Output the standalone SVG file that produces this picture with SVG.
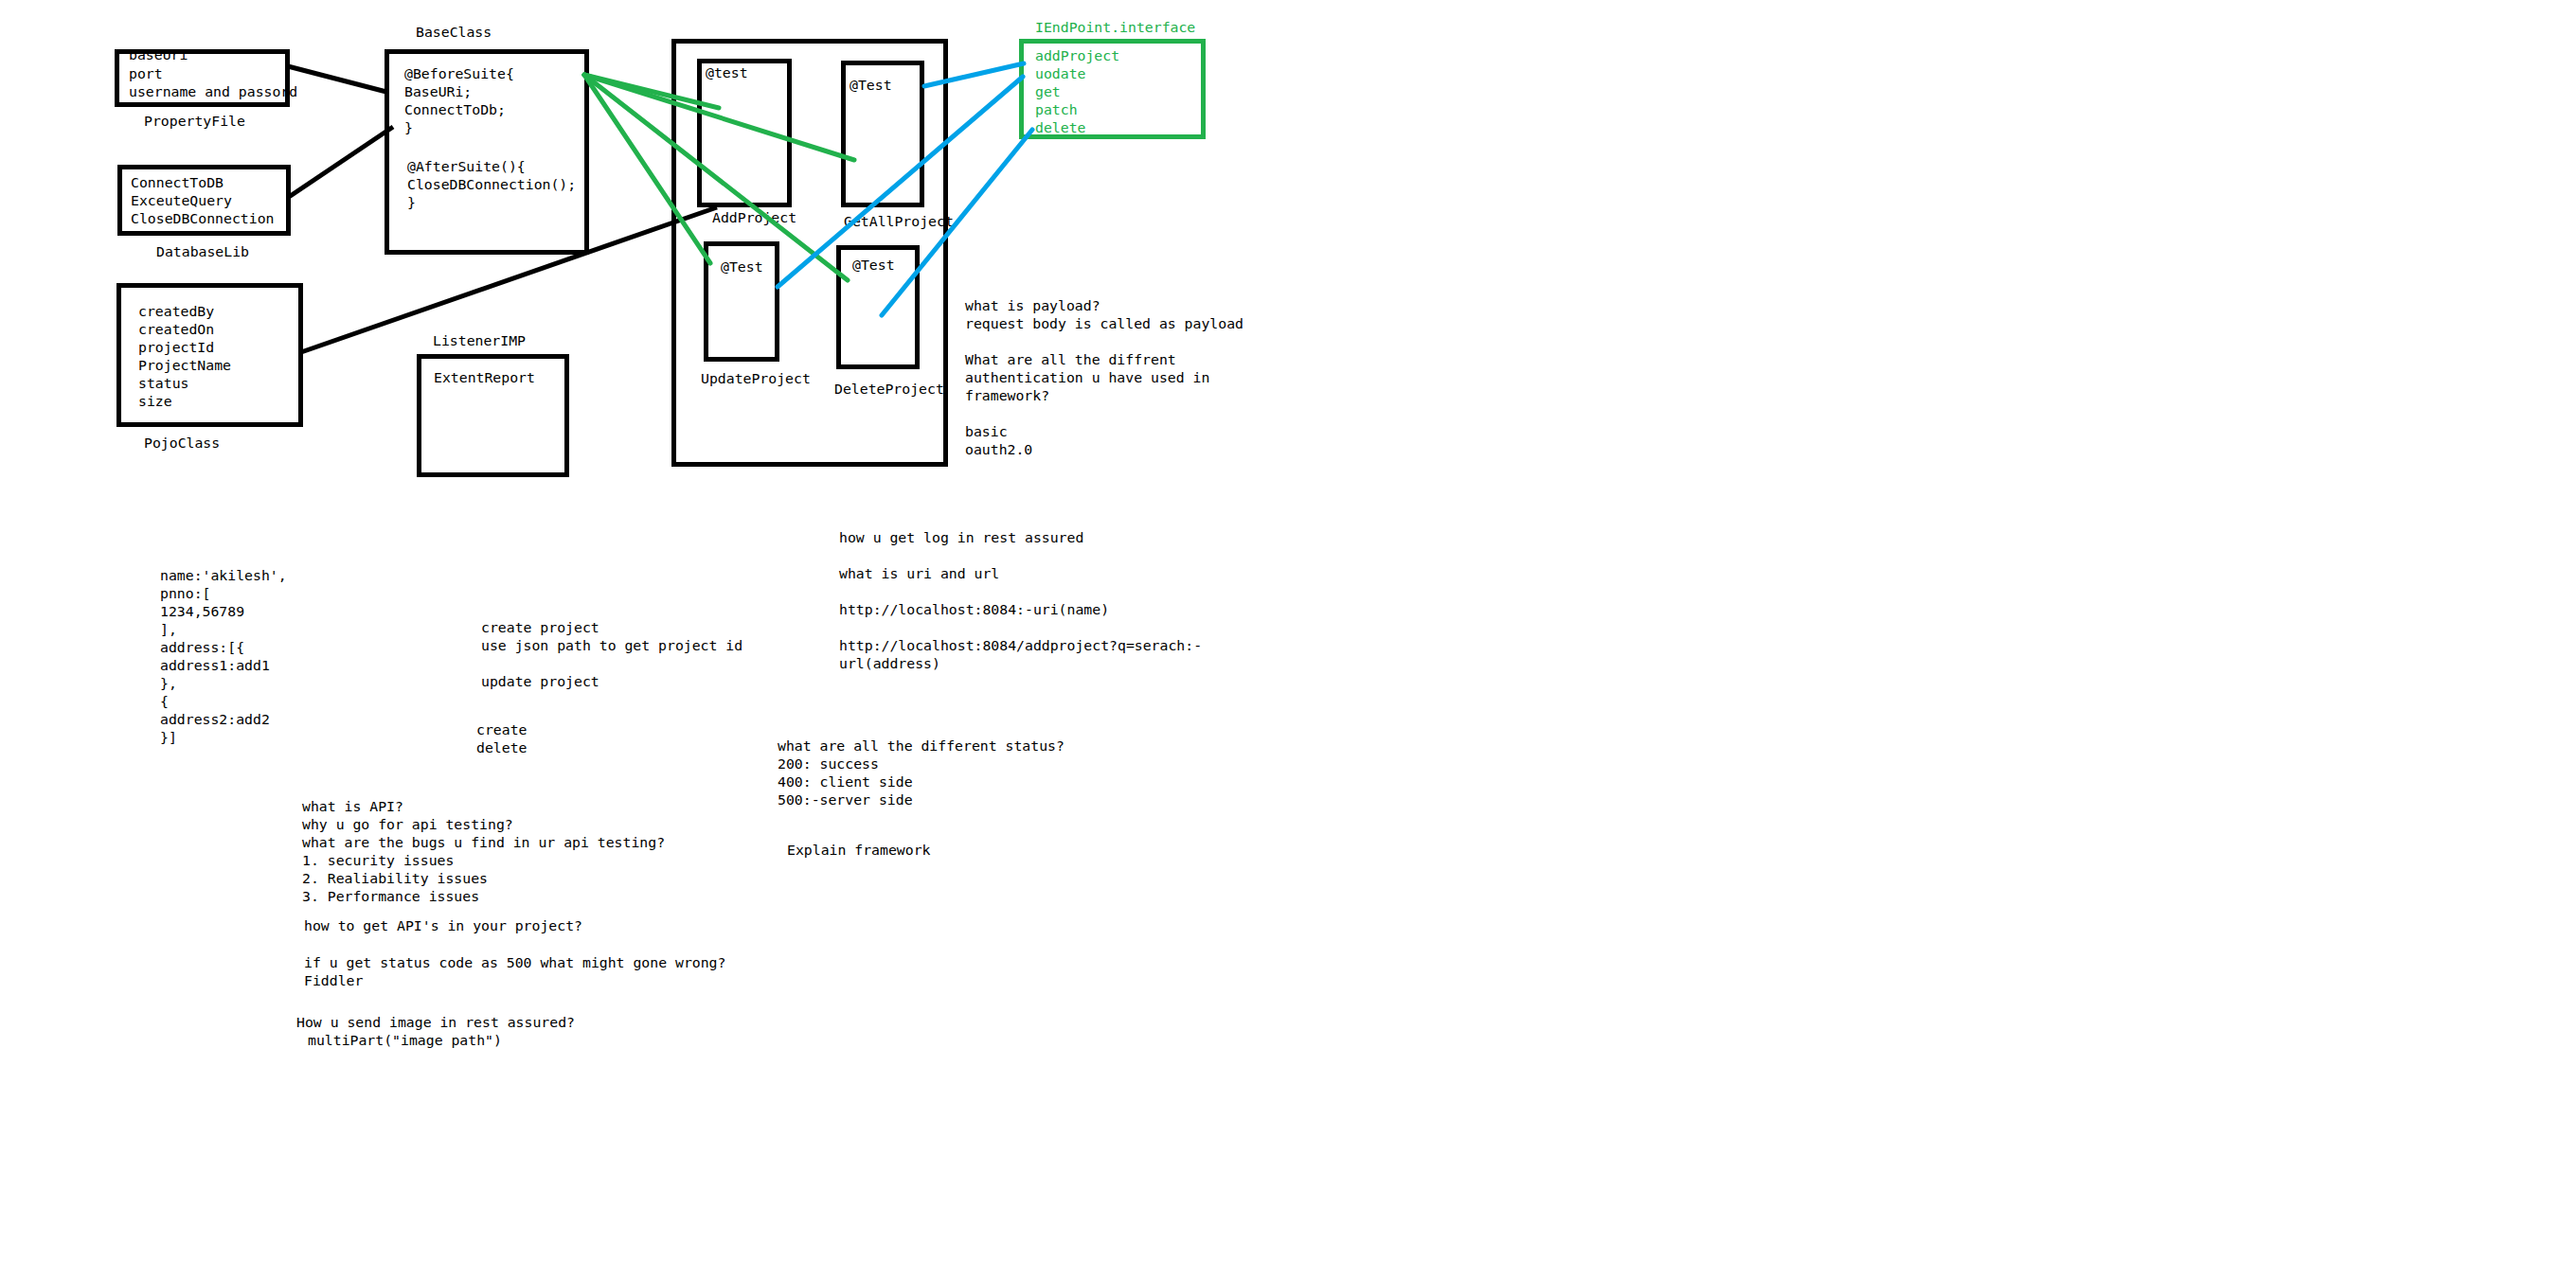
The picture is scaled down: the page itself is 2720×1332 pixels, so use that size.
<svg xmlns="http://www.w3.org/2000/svg" width="2720" height="1332" viewBox="0 0 2720 1332">
<style>
text{font-family:"DejaVu Sans Mono","Liberation Mono",monospace;font-size:14.8px;fill:#000}
.box{fill:none;stroke:#000;stroke-width:5}
.gbox{fill:none;stroke:#22b14c;stroke-width:5}
.gt{fill:#22b14c}
.blk{stroke:#000;stroke-width:5;fill:none}
.grn{stroke:#22b14c;stroke-width:5;fill:none;stroke-linecap:round}
.blu{stroke:#00a2e8;stroke-width:5;fill:none;stroke-linecap:round}
</style>
<rect width="2720" height="1332" fill="#fff"/>

<g id="propertyFile">
<text x="136" y="63">baseUri</text>
<text x="136" y="83">port</text>
<text x="136" y="102">username and passord</text>
<rect class="box" x="123.5" y="54.5" width="180" height="56"/>
<text x="152" y="133">PropertyFile</text>
</g>

<g id="databaseLib">
<rect class="box" x="126.5" y="176.5" width="178" height="70"/>
<text x="138" y="198">ConnectToDB</text>
<text x="138" y="217">ExceuteQuery</text>
<text x="138" y="236">CloseDBConnection</text>
<text x="165" y="271">DatabaseLib</text>
</g>

<g id="pojoClass">
<rect class="box" x="125.5" y="301.5" width="192" height="147"/>
<text x="146" y="334">createdBy</text>
<text x="146" y="353">createdOn</text>
<text x="146" y="372">projectId</text>
<text x="146" y="391">ProjectName</text>
<text x="146" y="410">status</text>
<text x="146" y="429">size</text>
<text x="152" y="473">PojoClass</text>
</g>

<g id="baseClass">
<text x="439" y="39">BaseClass</text>
<rect class="box" x="408.5" y="54.5" width="211" height="212"/>
<text x="427" y="83">@BeforeSuite{</text>
<text x="427" y="102">BaseURi;</text>
<text x="427" y="121">ConnectToDb;</text>
<text x="427" y="140">}</text>
<text x="430" y="181">@AfterSuite(){</text>
<text x="430" y="200">CloseDBConnection();</text>
<text x="430" y="219">}</text>
</g>

<g id="listenerIMP">
<text x="457" y="365">ListenerIMP</text>
<rect class="box" x="442.5" y="376.5" width="156" height="125"/>
<text x="458" y="404">ExtentReport</text>
</g>

<g id="testContainer">
<rect class="box" x="711.5" y="43.5" width="287" height="447"/>
</g>

<g id="addProject">
<rect class="box" x="738.5" y="64.5" width="95" height="152"/>
<text x="745" y="82">@test</text>
<text x="752" y="235">AddProject</text>
</g>

<g id="getAllProject">
<rect class="box" x="890.5" y="66.5" width="83" height="150"/>
<text x="897" y="95">@Test</text>
<text x="891" y="239">GetAllProject</text>
</g>

<g id="updateProject">
<rect class="box" x="745.5" y="257.5" width="75" height="122"/>
<text x="761" y="287">@Test</text>
<text x="740" y="405">UpdateProject</text>
</g>

<g id="deleteProject">
<rect class="box" x="885.5" y="261.5" width="83" height="126"/>
<text x="900" y="285">@Test</text>
<text x="881" y="416">DeleteProject</text>
</g>

<g id="iEndPoint">
<text class="gt" x="1093" y="34">IEndPoint.interface</text>
<rect class="gbox" x="1078.5" y="43.5" width="192" height="101"/>
<text class="gt" x="1093" y="64">addProject</text>
<text class="gt" x="1093" y="83">uodate</text>
<text class="gt" x="1093" y="102">get</text>
<text class="gt" x="1093" y="121">patch</text>
<text class="gt" x="1093" y="140">delete</text>
</g>

<g id="connectors">
<line class="blk" x1="304" y1="70" x2="408" y2="97"/>
<line class="blk" x1="305" y1="208" x2="415" y2="134"/>
<line class="blk" x1="318" y1="372" x2="757" y2="219"/>
<line class="grn" x1="617" y1="79" x2="759" y2="114"/>
<line class="grn" x1="617" y1="79" x2="902" y2="169"/>
<line class="grn" x1="617" y1="79" x2="750" y2="278"/>
<line class="grn" x1="617" y1="79" x2="895" y2="296"/>
<line class="blu" x1="976" y1="91" x2="1081" y2="67"/>
<line class="blu" x1="821" y1="303" x2="1080" y2="81"/>
<line class="blu" x1="931" y1="333" x2="1090" y2="137"/>
</g>

<g id="notes">
<text x="1019" y="328">what is payload?</text>
<text x="1019" y="347">request body is called as payload</text>
<text x="1019" y="385">What are all the diffrent</text>
<text x="1019" y="404">authentication u have used in</text>
<text x="1019" y="423">framework?</text>
<text x="1019" y="461">basic</text>
<text x="1019" y="480">oauth2.0</text>

<text x="169" y="613">name:'akilesh',</text>
<text x="169" y="632">pnno:[</text>
<text x="169" y="651">1234,56789</text>
<text x="169" y="670">],</text>
<text x="169" y="689">address:[{</text>
<text x="169" y="708">address1:add1</text>
<text x="169" y="727">},</text>
<text x="169" y="746">{</text>
<text x="169" y="765">address2:add2</text>
<text x="169" y="784">}]</text>

<text x="508" y="668">create project</text>
<text x="508" y="687">use json path to get project id</text>
<text x="508" y="725">update project</text>
<text x="503" y="776">create</text>
<text x="503" y="795">delete</text>

<text x="886" y="573">how u get log in rest assured</text>
<text x="886" y="611">what is uri and url</text>
<text x="886" y="649">http://localhost:8084:-uri(name)</text>
<text x="886" y="687">http://localhost:8084/addproject?q=serach:-</text>
<text x="886" y="706">url(address)</text>

<text x="821" y="793">what are all the different status?</text>
<text x="821" y="812">200: success</text>
<text x="821" y="831">400: client side</text>
<text x="821" y="850">500:-server side</text>
<text x="831" y="903">Explain framework</text>

<text x="319" y="857">what is API?</text>
<text x="319" y="876">why u go for api testing?</text>
<text x="319" y="895">what are the bugs u find in ur api testing?</text>
<text x="319" y="914">1. security issues</text>
<text x="319" y="933">2. Realiability issues</text>
<text x="319" y="952">3. Performance issues</text>
<text x="321" y="983">how to get API's in your project?</text>
<text x="321" y="1022">if u get status code as 500 what might gone wrong?</text>
<text x="321" y="1041">Fiddler</text>
<text x="313" y="1085">How u send image in rest assured?</text>
<text x="325" y="1104">multiPart("image path")</text>
</g>
</svg>
